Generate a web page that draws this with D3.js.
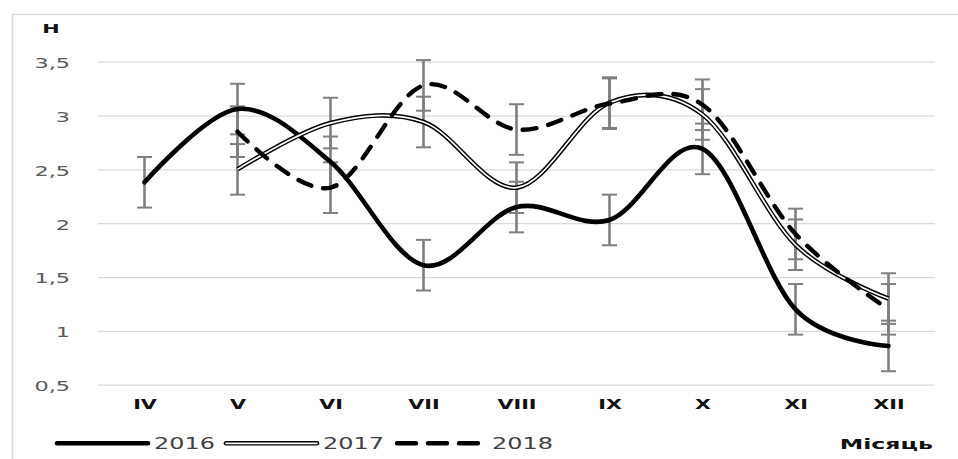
<!DOCTYPE html>
<html>
<head>
<meta charset="utf-8">
<script src="https://cdn.jsdelivr.net/npm/d3@7"></script>
<style>
    body { margin: 0; background: #fff; }
    svg { display: block; font-family: 'DejaVu Sans', sans-serif; }
</style>
</head>
<body>
<svg></svg>
<script>
// Data
const months = ['IV', 'V', 'VI', 'VII', 'VIII', 'IX', 'X', 'XI', 'XII'];
const h2016 = [2.38, 3.06, 2.57, 1.61, 2.15, 2.03, 2.69, 1.20, 0.86];
const h2017 = [null, 2.50, 2.93, 2.94, 2.33, 3.12, 3.01, 1.80, 1.30];
const h2018 = [null, 2.85, 2.33, 3.28, 2.87, 3.11, 3.10, 1.90, 1.20];
const errorValue = 0.235;
const yTicks = [0.5, 1, 1.5, 2, 2.5, 3, 3.5];
const seriesNames = ['2016', '2017', '2018'];

// Constants
const width = 958;
const height = 459;

const plotLeft = 98;
const plotRight = 935;
const plotTop = 61.7;
const plotBottom = 384.7;

const capWidth = 15;

// svg
const svg = d3.select('svg')
    .attr('width', width)
    .attr('height', height);

// chart border
svg.append('rect')
    .attr('x', 12.5)
    .attr('y', 14.5)
    .attr('width', 980)
    .attr('height', 480)
    .attr('fill', 'none')
    .attr('stroke', '#d9d9d9')
    .attr('stroke-width', 1.5);

// scales
const xScale = d3.scalePoint()
    .domain(months)
    .range([plotLeft, plotRight])
    .padding(0.5);

const yScale = d3.scaleLinear()
    .domain([0.5, 3.5])
    .range([plotBottom, plotTop]);

// yAxis + gridlines
const yAxis = d3.axisLeft(yScale)
    .tickValues(yTicks)
    .tickSizeInner(-(plotRight - plotLeft))
    .tickSizeOuter(0)
    .tickFormat(d => String(d).replace('.', ','));

const yAxisG = svg.append('g')
    .attr('id', 'y-axis')
    .attr('transform', `translate(${plotLeft}, 0)`)
    .call(yAxis);

yAxisG.select('.domain').remove();
yAxisG.selectAll('line')
    .attr('stroke', '#d9d9d9')
    .attr('stroke-width', 1.3);
yAxisG.selectAll('text')
    .attr('x', 0)
    .attr('dy', '0.42em')
    .attr('fill', '#595959')
    .attr('font-size', 14)
    .attr('font-family', 'DejaVu Sans')
    .attr('transform', 'translate(-28, 0) scale(1.6, 1)');

// xAxis
const xAxis = d3.axisBottom(xScale)
    .tickSize(0)
    .tickPadding(14.7);

const xAxisG = svg.append('g')
    .attr('id', 'x-axis')
    .attr('transform', `translate(0, ${plotBottom})`)
    .call(xAxis);

xAxisG.select('.domain').remove();
xAxisG.selectAll('text')
    .attr('fill', '#111')
    .attr('font-size', 14)
    .attr('font-weight', 'bold')
    .attr('font-family', 'DejaVu Sans')
    .attr('transform', 'scale(1.48, 1)');

// axis titles
svg.append('text')
    .attr('transform', 'translate(51, 33.3) scale(1.6, 1)')
    .attr('text-anchor', 'middle')
    .attr('font-size', 13)
    .attr('font-weight', 'bold')
    .attr('fill', '#111')
    .text('Н');

svg.append('text')
    .attr('transform', 'translate(933, 449) scale(1.62, 1)')
    .attr('text-anchor', 'end')
    .attr('font-size', 14.6)
    .attr('font-weight', 'bold')
    .attr('fill', '#111')
    .text('Місяць');

// series
const series = [h2016, h2017, h2018].map((values, s) => ({
    name: seriesNames[s],
    points: values
        .map((v, i) => ({ month: months[i], value: v }))
        .filter(d => d.value !== null)
}));

// error bars
const errG = svg.append('g')
    .attr('id', 'error-bars')
    .attr('stroke', '#7f7f7f');

series.forEach(ser => {
    ser.points.forEach(d => {
        const x = xScale(d.month);
        const y1 = yScale(d.value + errorValue);
        const y2 = yScale(d.value - errorValue);
        errG.append('line')
            .attr('x1', x).attr('x2', x)
            .attr('y1', y1).attr('y2', y2)
            .attr('stroke-width', 2.6);
        [y1, y2].forEach(y => {
            errG.append('line')
                .attr('x1', x - capWidth / 2).attr('x2', x + capWidth / 2)
                .attr('y1', y).attr('y2', y)
                .attr('stroke-width', 2);
        });
    });
});

// lines
const line = d3.line()
    .x(d => xScale(d.month))
    .y(d => yScale(d.value))
    .curve(d3.curveCardinal.tension(0));

const linesG = svg.append('g').attr('id', 'lines')
    .attr('fill', 'none')
    .attr('stroke-linejoin', 'round');

// 2016 - thick solid
linesG.append('path')
    .attr('d', line(series[0].points))
    .attr('stroke', '#000')
    .attr('stroke-width', 4.6)
    .attr('stroke-linecap', 'round');

// 2017 - double line
linesG.append('path')
    .attr('d', line(series[1].points))
    .attr('stroke', '#000')
    .attr('stroke-width', 4.6);
linesG.append('path')
    .attr('d', line(series[1].points))
    .attr('stroke', '#fff')
    .attr('stroke-width', 1.7);

// 2018 - dashed
linesG.append('path')
    .attr('d', line(series[2].points))
    .attr('stroke', '#000')
    .attr('stroke-width', 4.4)
    .attr('stroke-linecap', 'round')
    .attr('stroke-dasharray', '14,12');

// legend
const legendY = 443.3;
const legend = svg.append('g').attr('id', 'legend');

seriesNames.forEach((name, i) => {
    const x0 = 57 + i * 169;
    const x1 = x0 + 91;
    if (i === 0) {
        legend.append('line')
            .attr('x1', x0).attr('x2', x1)
            .attr('y1', legendY).attr('y2', legendY)
            .attr('stroke', '#000')
            .attr('stroke-width', 4.6)
            .attr('stroke-linecap', 'round');
    } else if (i === 1) {
        legend.append('line')
            .attr('x1', x0).attr('x2', x1)
            .attr('y1', legendY).attr('y2', legendY)
            .attr('stroke', '#000')
            .attr('stroke-width', 4.6)
            .attr('stroke-linecap', 'round');
        legend.append('line')
            .attr('x1', x0).attr('x2', x1)
            .attr('y1', legendY).attr('y2', legendY)
            .attr('stroke', '#fff')
            .attr('stroke-width', 1.7)
            .attr('stroke-linecap', 'round');
    } else {
        legend.append('line')
            .attr('x1', x0 + 2).attr('x2', x1)
            .attr('y1', legendY).attr('y2', legendY)
            .attr('stroke', '#000')
            .attr('stroke-width', 4.4)
            .attr('stroke-linecap', 'round')
            .attr('stroke-dasharray', '19,12');
    }
    legend.append('text')
        .attr('transform', `translate(${x1 + 6}, 449.3) scale(1.45, 1)`)
        .attr('font-size', 16.5)
        .attr('fill', '#404040')
        .text(name);
});
</script>
</body>
</html>
